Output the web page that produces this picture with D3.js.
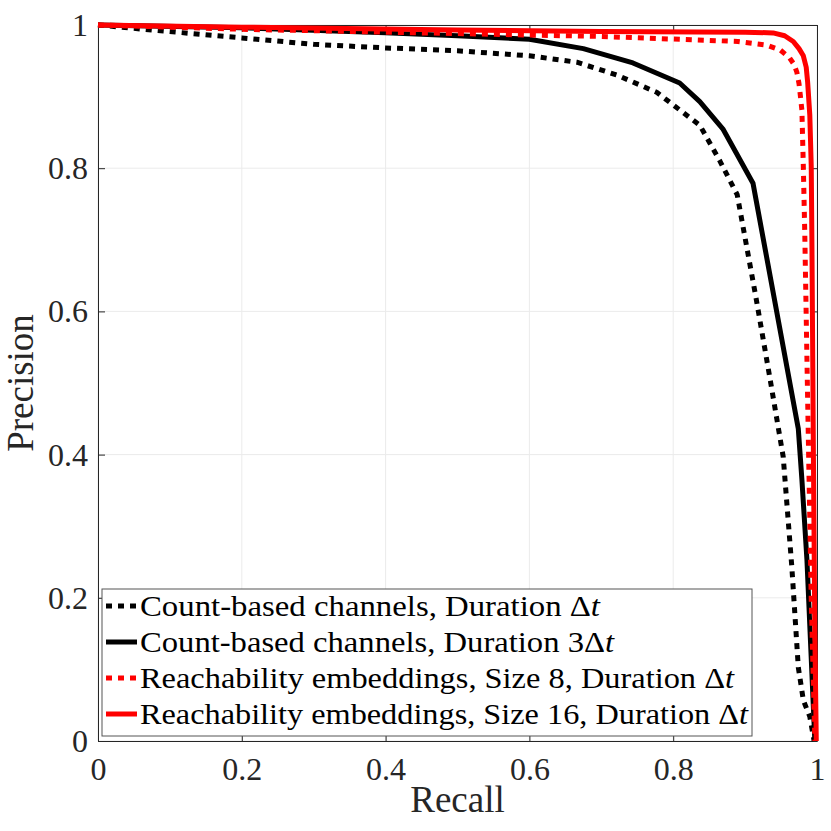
<!DOCTYPE html>
<html><head><meta charset="utf-8">
<script src="https://cdn.jsdelivr.net/npm/d3@7"></script>
<style>body{margin:0;background:#fff}svg{display:block}</style>
</head><body>
<svg id="c" width="831" height="831"></svg>
<script>
const xTicks = [0, 0.2, 0.4, 0.6, 0.8, 1];
const yTicks = [0, 0.2, 0.4, 0.6, 0.8, 1];
const xTickLabels = ["0", "0.2", "0.4", "0.6", "0.8", "1"];
const yTickLabels = ["0", "0.2", "0.4", "0.6", "0.8", "1"];
const seriesNames = [
  "Count-based channels, Duration ",
  "Count-based channels, Duration 3",
  "Reachability embeddings, Size 8, Duration ",
  "Reachability embeddings, Size 16, Duration "
];
const countDt = [[0,1],[0.075,0.993],[0.2,0.982],[0.3,0.973],[0.4,0.968],[0.5,0.964],[0.6,0.957],[0.666,0.948],[0.722,0.930],[0.777,0.906],[0.837,0.860],[0.865,0.810],[0.889,0.763],[0.915,0.620],[0.935,0.504],[0.953,0.397],[0.965,0.243],[0.974,0.103],[0.981,0.057],[0.990,0.034],[0.996,0.0]];
const count3Dt = [[0,1],[0.2,0.996],[0.4,0.989],[0.5,0.985],[0.6,0.980],[0.675,0.967],[0.744,0.947],[0.809,0.919],[0.837,0.893],[0.869,0.855],[0.911,0.779],[0.974,0.436],[0.979,0.365],[0.986,0.253],[0.997,0.0]];
const reach8 = [[0,1],[0.1,0.997],[0.2,0.994],[0.35,0.991],[0.5,0.988],[0.7,0.984],[0.89,0.977],[0.93,0.972],[0.949,0.965],[0.962,0.954],[0.968,0.945],[0.972,0.934],[0.975,0.918],[0.977,0.900],[0.979,0.881],[0.981,0.802],[0.983,0.709],[0.987,0.476],[0.992,0.197],[0.997,0.0]];
const reach16 = [[0,1],[0.2,0.997],[0.5,0.993],[0.7,0.991],[0.9,0.990],[0.939,0.989],[0.955,0.985],[0.967,0.977],[0.975,0.967],[0.981,0.957],[0.985,0.941],[0.987,0.920],[0.990,0.874],[0.992,0.802],[0.993,0.686],[0.995,0.4],[0.997,0.15],[0.999,0.0]];

const series = [
  {data: countDt, color: "#000", dash: "6,6", name: seriesNames[0]},
  {data: count3Dt, color: "#000", dash: null, name: seriesNames[1]},
  {data: reach8, color: "#ff0000", dash: "6,6", name: seriesNames[2]},
  {data: reach16, color: "#ff0000", dash: null, name: seriesNames[3]}
];

const svg = d3.select("#c");
const L = 98, T = 25, W = 719, H = 716;
const x = d3.scaleLinear().domain([0,1]).range([L, L+W]);
const y = d3.scaleLinear().domain([0,1]).range([T+H, T]);
const font = "'Liberation Serif', 'Times New Roman', serif";
const axisCol = "#262626";

// grid
const g = svg.append("g");
g.selectAll(".gx").data(xTicks).enter().append("line")
  .attr("x1", d=>x(d)).attr("x2", d=>x(d)).attr("y1", T).attr("y2", T+H)
  .attr("stroke", "#ebebeb").attr("stroke-width", 1);
g.selectAll(".gy").data(yTicks).enter().append("line")
  .attr("y1", d=>y(d)).attr("y2", d=>y(d)).attr("x1", L).attr("x2", L+W)
  .attr("stroke", "#ebebeb").attr("stroke-width", 1);

// axes
const tl = 7;
const axB = svg.append("g").attr("transform", `translate(0,${T+H})`)
  .call(d3.axisBottom(x).tickValues(xTicks).tickSizeInner(-tl).tickSizeOuter(0).tickFormat((d,i)=>xTickLabels[i]).tickPadding(16));
const axT = svg.append("g").attr("transform", `translate(0,${T})`)
  .call(d3.axisTop(x).tickValues(xTicks).tickSizeInner(-tl).tickSizeOuter(0).tickFormat(""));
const axLft = svg.append("g").attr("transform", `translate(${L},0)`)
  .call(d3.axisLeft(y).tickValues(yTicks).tickSizeInner(-tl).tickSizeOuter(0).tickFormat((d,i)=>yTickLabels[i]).tickPadding(10));
const axR = svg.append("g").attr("transform", `translate(${L+W},0)`)
  .call(d3.axisRight(y).tickValues(yTicks).tickSizeInner(-tl).tickSizeOuter(0).tickFormat(""));
[axB, axT, axLft, axR].forEach(a => {
  a.select(".domain").attr("stroke", axisCol).attr("stroke-width", 1);
  a.selectAll(".tick line").attr("stroke", axisCol).attr("stroke-width", 1);
  a.selectAll("text").attr("font-family", font).attr("font-size", 32).attr("fill", axisCol);
});
axB.selectAll("text").attr("dy", "0.71em");
axLft.selectAll("text").attr("dy", "0.33em");

// lines
const line = d3.line().x(d=>x(d[0])).y(d=>y(d[1]));
series.forEach(s => {
  svg.append("path").datum(s.data).attr("d", line)
    .attr("fill", "none").attr("stroke", s.color).attr("stroke-width", 5)
    .attr("stroke-linejoin", "round").attr("stroke-linecap", "butt")
    .attr("stroke-dasharray", s.dash);
});

// axis labels
svg.append("text").attr("x", x(0.5)).attr("y", 812).attr("text-anchor", "middle")
  .attr("font-family", font).attr("font-size", 37).attr("fill", axisCol).text("Recall");
svg.append("text").attr("transform", `translate(33,${y(0.5)}) rotate(-90)`).attr("text-anchor", "middle")
  .attr("font-family", font).attr("font-size", 37).attr("fill", axisCol).text("Precision");

// legend
const lg = svg.append("g");
lg.append("rect").attr("x", 102).attr("y", 589).attr("width", 650).attr("height", 147)
  .attr("fill", "#fff").attr("stroke", "#555").attr("stroke-width", 1);
const widths = [460, 474, 594, 608];
series.forEach((s, i) => {
  const cy = 606 + i*36;
  lg.append("line").attr("x1", 106).attr("x2", 137).attr("y1", cy).attr("y2", cy)
    .attr("stroke", s.color).attr("stroke-width", 5).attr("stroke-dasharray", s.dash);
  const t = lg.append("text").attr("x", 140).attr("y", cy + 10)
    .attr("font-family", font).attr("font-size", 29).attr("fill", "#000")
    .attr("textLength", widths[i]).attr("lengthAdjust", "spacingAndGlyphs");
  t.append("tspan").text(s.name + "\u0394");
  t.append("tspan").attr("font-style", "italic").text("t");
});
</script>
</body></html>
